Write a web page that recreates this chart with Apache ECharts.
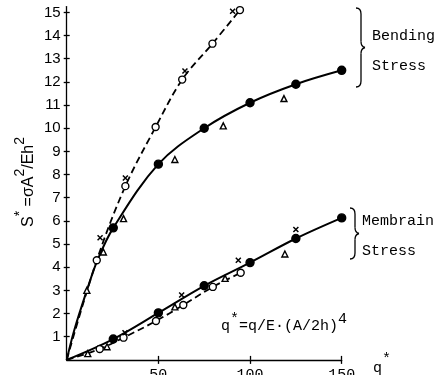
<!DOCTYPE html>
<html><head><meta charset="utf-8">
<script src="https://cdn.jsdelivr.net/npm/echarts@6/dist/echarts.min.js"></script>
<style>html,body{margin:0;padding:0;background:#fff}#c{width:438px;height:375px}</style>
</head><body><div id="c"></div>
<script>
// ---- data ----
const xTicks = [50, 100, 150];
const yTicks = [1,2,3,4,5,6,7,8,9,10,11,12,13,14,15];

// Bending stress
const bendSolidCurve = [[0,0],[4,1.25],[11,3.0],[17,4.35],[25.4,5.7],[50,8.45],[75,10.0],[100,11.1],[125,11.9],[150,12.5]];
const bendSolidPts   = [[25.4,5.7],[50,8.45],[75,10.0],[100,11.1],[125,11.9],[150,12.5]];
const bendDashed     = [[0,0],[16.4,4.3],[32,7.5],[48.5,10.05],[63,12.1],[79.5,13.65],[94.5,15.1]];
const bendDashedPts  = [[16.4,4.3],[32,7.5],[48.5,10.05],[63,12.1],[79.5,13.65],[94.5,15.1]];
const bendCross      = [[18.2,5.27],[32,7.85],[64.5,12.47],[90.5,15.05]];
const bendTri        = [[11,3.0],[20,4.66],[31,6.1],[59,8.65],[85.4,10.1],[118.5,11.28]];

// Membrane stress
const memSolid       = [[0,0],[25.4,0.9],[50,2.03],[75,3.2],[100,4.2],[125,5.24],[150,6.13]];
const memSolidPts    = [[25.4,0.9],[50,2.03],[75,3.2],[100,4.2],[125,5.24],[150,6.13]];
const memDashed      = [[0,0],[18,0.47],[31,0.96],[48.7,1.68],[63.6,2.37],[79.7,3.15],[94.9,3.76]];
const memDashedPts   = [[18,0.47],[31,0.96],[48.7,1.68],[63.6,2.37],[79.7,3.15],[94.9,3.76]];
const memCross       = [[31.8,1.17],[62.7,2.8],[93.6,4.3],[125,5.63]];
const memTri         = [[11.5,0.27],[22,0.57],[59,2.29],[86.4,3.52],[119,4.57]];

const mono = "'Liberation Mono','DejaVu Sans Mono',monospace";
const sans = "'Liberation Sans Narrow','Liberation Sans',sans-serif";
const K = '#000';

const crossPath = 'path://M0,0L10,10M10,0L0,10';

function line(data, dashed){
  return {type:'line', data, smooth:0.35, symbol:'none', silent:true,
    lineStyle:{color:K, width:dashed?1.8:2, type:dashed?[7,4]:'solid'}, z:2};
}
function pts(data, symbol, size, fill, extra){
  return Object.assign({type:'scatter', data, symbol, symbolSize:size,
    itemStyle:{color:fill, borderColor:K, borderWidth:1.4, opacity:1}, z:3}, extra||{});
}
function brace(x, y0, y1, w){
  const m = (y0+y1)/2, st = {stroke:K, fill:'none', lineWidth:1.3};
  return [
    {type:'bezierCurve', shape:{x1:x-w, y1:y0, x2:x, y2:y0+6, cpx1:x, cpy1:y0}, style:st},
    {type:'line', shape:{x1:x, y1:y0+6, x2:x, y2:m-6}, style:st},
    {type:'bezierCurve', shape:{x1:x, y1:m-6, x2:x+4, y2:m, cpx1:x, cpy1:m-1}, style:st},
    {type:'bezierCurve', shape:{x1:x+4, y1:m, x2:x, y2:m+6, cpx1:x, cpy1:m+1}, style:st},
    {type:'line', shape:{x1:x, y1:m+6, x2:x, y2:y1-6}, style:st},
    {type:'bezierCurve', shape:{x1:x, y1:y1-6, x2:x-w, y2:y1, cpx1:x, cpy1:y1}, style:st}
  ];
}

const chart = echarts.init(document.getElementById('c'), null, {renderer:'canvas'});
chart.setOption({
  animation:false,
  backgroundColor:'#fff',
  grid:{left:66.7, right:96.3, top:6.6, bottom:15.1, containLabel:false, outerBoundsMode:'none'},
  xAxis:[{
    type:'value', min:0, max:150, interval:50,
    splitLine:{show:false},
    axisLine:{lineStyle:{color:K, width:1.3}},
    axisTick:{customValues:xTicks, length:4, lineStyle:{color:K, width:1.3}},
    axisLabel:{customValues:xTicks, color:K, fontFamily:mono, fontSize:15, margin:8}
  },{
    type:'value', min:0, max:150, interval:50, position:'bottom',
    splitLine:{show:false}, axisLine:{show:false},
    axisTick:{inside:true, customValues:xTicks, length:4, lineStyle:{color:K, width:1.3}},
    axisLabel:{show:false}
  }],
  yAxis:[{
    type:'value', min:0, max:15.25, interval:1,
    splitLine:{show:false},
    axisLine:{lineStyle:{color:K, width:1.3}},
    axisTick:{customValues:yTicks, length:3, lineStyle:{color:K, width:1.3}},
    axisLabel:{customValues:yTicks, color:K, fontFamily:sans, fontSize:15, margin:6}
  },{
    type:'value', min:0, max:15.25, interval:1, position:'left',
    splitLine:{show:false}, axisLine:{show:false},
    axisTick:{inside:true, customValues:yTicks, length:3, lineStyle:{color:K, width:1.3}},
    axisLabel:{show:false}
  }],
  series:[
    line(bendSolidCurve,false),
    line(bendDashed,true),
    line(memSolid,false),
    line(memDashed,true),
    pts(bendSolidPts,'circle',8,K),
    pts(memSolidPts,'circle',8,K),
    pts(bendDashedPts,'circle',7,'#fff'),
    pts(memDashedPts,'circle',7,'#fff'),
    pts(bendTri,'triangle',6,'#fff'),
    pts(memTri,'triangle',6,'#fff'),
    pts(bendCross,crossPath,5,'none',{itemStyle:{color:'none',borderColor:K,borderWidth:1.5,opacity:1}}),
    pts(memCross,crossPath,5,'none',{itemStyle:{color:'none',borderColor:K,borderWidth:1.5,opacity:1}})
  ],
  graphic:[].concat(
    brace(361, 8, 87, 5),
    brace(355, 208, 259, 5),
    [
    {type:'text', left:372, top:29, style:{text:'Bending', font:"15px 'Liberation Mono'", fill:K}},
    {type:'text', left:372, top:59, style:{text:'Stress', font:"15px 'Liberation Mono'", fill:K}},
    {type:'text', left:362, top:214, style:{text:'Membrain', font:"15px 'Liberation Mono'", fill:K}},
    {type:'text', left:362, top:244, style:{text:'Stress', font:"15px 'Liberation Mono'", fill:K}},
    {type:'text', x:221, y:312, style:{
      text:'{m|q}{s|*}{m|=q/E·(A/2h)}{s|4}',
      rich:{m:{fontFamily:mono, fontSize:15, color:K, verticalAlign:'bottom', lineHeight:22},
            s:{fontFamily:mono, fontSize:15, color:K, verticalAlign:'top', lineHeight:22}}}},
    {type:'text', x:373, y:352, style:{
      text:'{m|q}{s|*}',
      rich:{m:{fontFamily:mono, fontSize:15, color:K, verticalAlign:'bottom', lineHeight:24},
            s:{fontFamily:mono, fontSize:15, color:K, verticalAlign:'top', lineHeight:24}}}},
    {type:'text', x:13, y:227, rotation:Math.PI/2, style:{
      text:'{m|S}{s|*}{m| =σA}{s|2}{m|/Eh}{s|2}',
      rich:{m:{fontFamily:"'Liberation Sans',sans-serif", fontSize:16, color:K, verticalAlign:'bottom', lineHeight:24},
            s:{fontFamily:"'Liberation Sans',sans-serif", fontSize:14, color:K, verticalAlign:'top', lineHeight:24}}}}
    ])
});
</script></body></html>
